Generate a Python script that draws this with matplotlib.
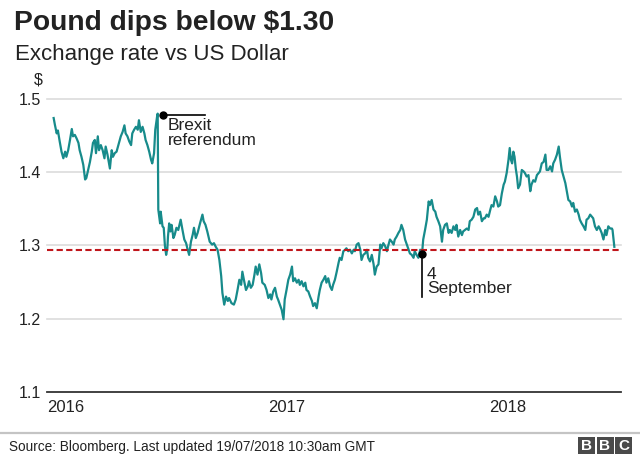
import pandas as pd
import matplotlib.pyplot as plt
from matplotlib.patches import Rectangle
from matplotlib.transforms import ScaledTranslation

plt.rcParams["font.family"] = ["Liberation Sans", "DejaVu Sans"]

# day of year (0 = 1 Jan) and GBP/USD rate
days_2016 = [3, 5, 8, 10, 13, 16, 19, 22, 24, 27, 30, 33, 35, 38, 41, 44, 46, 49, 52, 55,
             57, 60, 63, 66, 68, 71, 73, 76, 78, 81, 84, 87, 89, 92, 96, 99, 101, 104, 107, 111,
             114, 117, 120, 122, 125, 128, 131, 133, 136, 139, 142, 144, 147, 150, 153, 155, 158, 161, 164, 166,
             169, 171, 174, 175,
             176, 179, 180, 183, 185, 187, 189, 191, 192, 194, 196, 198, 201, 203, 206, 209, 213, 216, 219, 222,
             224, 227, 230, 233, 235, 238, 241, 245, 249, 251, 254, 257, 261, 265, 268, 271, 274, 277, 280, 282,
             285, 288, 291, 293, 297, 301, 304, 307, 310, 313, 315, 318, 321, 324, 326, 329, 332, 335, 337, 340,
             343, 346, 348, 352, 355, 358, 361, 363]
rate_2016 = [1.474, 1.465, 1.453, 1.457, 1.442, 1.428, 1.419, 1.428, 1.421, 1.430, 1.444, 1.459, 1.449, 1.451, 1.446,
             1.440, 1.430, 1.421, 1.410, 1.390, 1.392, 1.403, 1.414, 1.428, 1.440, 1.444, 1.426, 1.449, 1.430, 1.437,
             1.430, 1.419, 1.435, 1.424, 1.405, 1.430, 1.421, 1.426, 1.428, 1.440, 1.449, 1.455, 1.464, 1.453, 1.449,
             1.442, 1.437, 1.453, 1.458, 1.462, 1.458, 1.471, 1.455, 1.462, 1.453, 1.444, 1.437, 1.428, 1.417, 1.412,
             1.426, 1.458, 1.476, 1.480,
             1.349, 1.330, 1.346, 1.326, 1.324, 1.299, 1.287, 1.296, 1.312, 1.330, 1.319, 1.328, 1.310, 1.314, 1.324,
             1.321, 1.335, 1.321, 1.308, 1.303, 1.296, 1.287, 1.305, 1.315, 1.324, 1.310, 1.317, 1.330, 1.342, 1.333,
             1.328, 1.319, 1.305, 1.301, 1.303, 1.298, 1.294, 1.280, 1.258, 1.235, 1.219, 1.230, 1.224, 1.228, 1.221,
             1.219, 1.226, 1.239, 1.253, 1.246, 1.264, 1.251, 1.239, 1.244, 1.251, 1.242, 1.246, 1.260, 1.271, 1.260,
             1.274, 1.262, 1.249, 1.246, 1.239, 1.228, 1.233, 1.226]

days_2017 = [0, 3, 6, 8, 11, 14, 17, 19, 22, 25, 28, 31, 33, 36, 39, 42, 44, 47, 50, 53,
             55, 58, 61, 64, 66, 69, 72, 75, 77, 80, 83, 86, 88, 91, 94, 97, 99, 102, 105, 108,
             110, 113, 116, 119, 121, 124, 127, 130, 133, 135, 138, 141, 144, 146, 149, 152, 155, 157, 160, 163,
             166, 168, 171, 174,
             177, 179, 182, 185, 188, 190, 193, 196, 199, 201, 204, 207, 210, 212, 215, 218, 221, 223, 226, 229,
             232, 234, 237, 240, 243, 246, 248, 251, 254, 257, 259, 262, 265, 268, 270, 273, 276, 279, 281, 284,
             287, 290, 292, 295, 298, 301, 303, 306, 309, 312, 314, 317, 320, 323, 325, 328, 331, 334, 337, 339,
             342, 345, 348, 350, 353, 356, 359, 361, 364]
rate_2017 = [1.237, 1.242, 1.230, 1.226, 1.219, 1.212, 1.199, 1.226, 1.239, 1.253, 1.260, 1.271, 1.251, 1.255, 1.249,
             1.253, 1.246, 1.251, 1.244, 1.249, 1.239, 1.237, 1.230, 1.224, 1.217, 1.221, 1.214, 1.230, 1.239, 1.249,
             1.253, 1.258, 1.249, 1.255, 1.244, 1.239, 1.246, 1.253, 1.264, 1.276, 1.283, 1.280, 1.292, 1.294, 1.296,
             1.292, 1.294, 1.289, 1.294, 1.292, 1.301, 1.303, 1.294, 1.280, 1.287, 1.289, 1.294, 1.283, 1.278, 1.287,
             1.274, 1.260, 1.271, 1.274,
             1.301, 1.296, 1.303, 1.299, 1.292, 1.299, 1.308, 1.305, 1.301, 1.308, 1.312, 1.317, 1.321, 1.328, 1.321,
             1.308, 1.301, 1.296, 1.289, 1.287, 1.283, 1.292, 1.287, 1.283, 1.294, 1.288, 1.308, 1.321, 1.335, 1.360,
             1.355, 1.362, 1.349, 1.346, 1.339, 1.333, 1.326, 1.305, 1.321, 1.328, 1.330, 1.317, 1.321, 1.317, 1.326,
             1.321, 1.328, 1.312, 1.321, 1.314, 1.319, 1.321, 1.323, 1.321, 1.333, 1.335, 1.339, 1.349, 1.351, 1.342,
             1.346, 1.333, 1.337, 1.337, 1.342, 1.339, 1.349, 1.355, 1.353]

days_2018 = [2, 5, 7, 10, 13, 16, 18, 21, 24, 26, 28, 30, 32, 34, 36, 38, 40, 43, 46, 49,
             51, 54, 57, 60, 62, 65, 68, 71, 74, 76, 79, 82, 85, 87, 90, 93, 96, 98, 101, 104,
             107, 109, 112, 115, 118, 120, 123, 126, 129, 131, 134, 137, 140, 142, 145, 148, 151, 153, 156, 159,
             162, 164, 167, 170, 173, 175, 178, 181, 184, 186, 189, 192, 195, 196, 199]
rate_2018 = [1.367, 1.360, 1.353, 1.355, 1.371, 1.383, 1.387, 1.399, 1.417, 1.433, 1.417, 1.412, 1.428, 1.421, 1.405,
             1.394, 1.378, 1.383, 1.403, 1.401, 1.399, 1.394, 1.396, 1.374, 1.383, 1.389, 1.387, 1.396, 1.399, 1.401,
             1.412, 1.414, 1.424, 1.403, 1.403, 1.408, 1.401, 1.412, 1.417, 1.424, 1.435, 1.421, 1.403, 1.394, 1.385,
             1.376, 1.362, 1.360, 1.353, 1.358, 1.346, 1.349, 1.342, 1.335, 1.330, 1.326, 1.321, 1.335, 1.337, 1.342,
             1.339, 1.337, 1.326, 1.321, 1.326, 1.323, 1.317, 1.308, 1.321, 1.314, 1.326, 1.323, 1.323, 1.321, 1.298]

threshold = 1.294
y_ticks = [1.1, 1.2, 1.3, 1.4, 1.5]
year_labels = ["2016", "2017", "2018"]

TEAL = "#178b8b"
RED = "#c0161b"
DARK = "#222222"


def to_dates(year, days):
    return pd.Timestamp(f"{year}-01-01") + pd.to_timedelta(days, unit="D")


dates = to_dates(2016, days_2016).append(to_dates(2017, days_2017)).append(to_dates(2018, days_2018))
rates = rate_2016 + rate_2017 + rate_2018

W, H = 640, 458
fig = plt.figure(figsize=(6.4, 4.58), dpi=100)
ax = fig.add_axes([47 / W, 1 - 391.7 / H, (621 - 47) / W, (391.7 - 99) / H])

for y in y_ticks[1:]:
    ax.axhline(y, color="#dcdcdc", lw=1.2, zorder=0, clip_on=False)
ax.axhline(threshold, color=RED, lw=1.5, ls=(0, (3, 1.6)), zorder=3)
ax.plot(dates, rates, color=TEAL, lw=1.6, zorder=2)

ax.set_xlim(pd.Timestamp("2015-12-24"), pd.Timestamp("2018-07-30"))
ax.set_ylim(1.1, 1.5)
for s in ["left", "right", "top"]:
    ax.spines[s].set_visible(False)
ax.spines["bottom"].set_color("#333333")
ax.spines["bottom"].set_linewidth(1.3)

ax.set_yticks(y_ticks)
ax.set_yticklabels([f"{v:.1f}" for v in y_ticks], fontsize=11.5, color=DARK)
ax.tick_params(axis="y", length=0, pad=4.5)

ax.set_xticks([pd.Timestamp(f"{y}-01-01") for y in year_labels])
ax.set_xticklabels(year_labels, fontsize=12, color=DARK, ha="left")
ax.tick_params(axis="x", length=0, pad=6)
shift = ScaledTranslation(-5 / 100, 0, fig.dpi_scale_trans)
for lab in ax.get_xticklabels():
    lab.set_transform(lab.get_transform() + shift)

# Brexit annotation
brexit_x = pd.Timestamp("2016-07-03")
ax.plot([brexit_x, pd.Timestamp("2016-09-10")], [1.478, 1.478], color="black", lw=1.2, zorder=4)
ax.plot(brexit_x, 1.478, "o", color="black", ms=5, zorder=5)
ax.text(pd.Timestamp("2016-07-11"), 1.4735, "Brexit\nreferendum", fontsize=12.5, color=DARK,
        va="top", ha="left", linespacing=0.95)

# 4 September annotation
sep_x = pd.Timestamp("2017-09-04")
ax.plot([sep_x, sep_x], [1.288, 1.230], color="black", lw=1.2, zorder=4)
ax.plot(sep_x, 1.288, "o", color="black", ms=5, zorder=5)
ax.text(pd.Timestamp("2017-09-12"), 1.2705, "4\nSeptember", fontsize=12.5, color=DARK,
        va="top", ha="left", linespacing=0.95)

fig.text(14 / W, 1 - 30 / H, "Pound dips below $1.30", fontsize=20.3, fontweight="bold",
         color=DARK, va="baseline")
fig.text(15 / W, 1 - 60 / H, "Exchange rate vs US Dollar", fontsize=16, color=DARK, va="baseline")
fig.text(38 / W, 1 - 85 / H, "$", fontsize=11.5, color=DARK, va="baseline", ha="center")

fig.add_artist(plt.Line2D([0, 1], [1 - 432.7 / H] * 2, color="#c4c4c4", lw=1.6))
fig.text(9 / W, 1 - 451.5 / H, "Source: Bloomberg. Last updated 19/07/2018 10:30am GMT",
         fontsize=9.8, color=DARK, va="baseline")

for i, letter in enumerate("BBC"):
    x0 = 578 + i * 18.5
    fig.add_artist(Rectangle((x0 / W, 1 - 454 / H), 17 / W, 17 / H, color="#4a4a4a", lw=0))
    fig.text((x0 + 8.5) / W, 1 - 445.5 / H, letter, fontsize=11, fontweight="bold",
             color="white", ha="center", va="center")

fig.savefig("out.png", dpi=100)
